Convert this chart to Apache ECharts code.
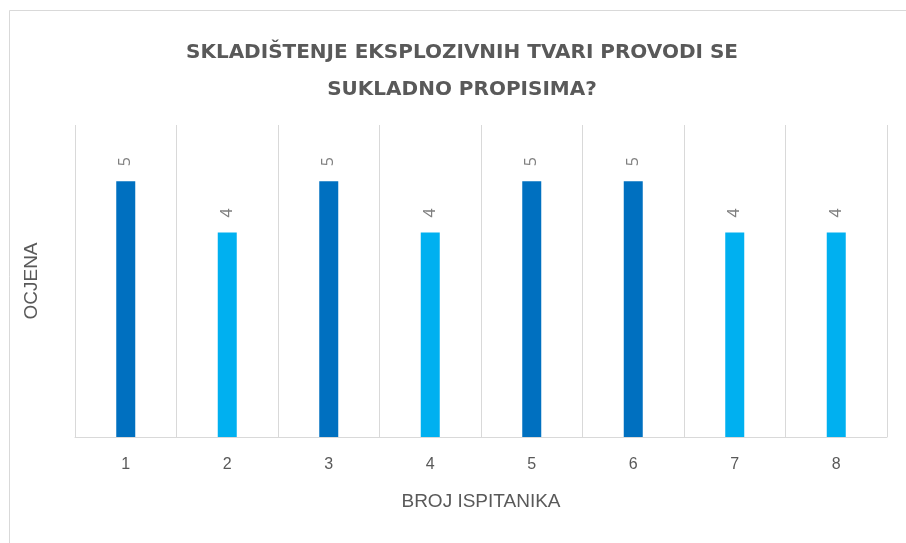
<!DOCTYPE html>
<html>
<head>
<meta charset="utf-8">
<script src="https://cdn.jsdelivr.net/npm/echarts@6/dist/echarts.min.js"></script>
<style>
  html, body { margin: 0; padding: 0; background: #fff; }
  #chart { width: 906px; height: 543px; }
</style>
</head>
<body>
<div id="chart"></div>
<script>
// podaci
const ispitanici = ['1', '2', '3', '4', '5', '6', '7', '8'];
const ocjene = [5, 4, 5, 4, 5, 5, 4, 4];

const naslov = 'SKLADIŠTENJE EKSPLOZIVNIH TVARI PROVODI SE\nSUKLADNO PROPISIMA?';
const tamnoPlava = '#0070C0';
const svijetloPlava = '#00B0F0';

let myChart = echarts.init(document.getElementById('chart'));
let option = {
  backgroundColor: '#fff',
  animation: false,
  title: {
    text: naslov,
    left: 457,
    top: 29,
    textAlign: 'center',
    textStyle: {
      fontFamily: 'DejaVu Sans',
      fontWeight: 'bold',
      fontSize: 20,
      lineHeight: 37,
      color: '#595959'
    }
  },
  graphic: [{
    type: 'polyline',
    silent: true,
    shape: { points: [[9.5, 543], [9.5, 10.5], [906, 10.5]] },
    style: { stroke: '#d9d9d9', lineWidth: 1, fill: null }
  }],
  grid: { left: 75, right: 19, top: 125, bottom: 106 },
  xAxis: {
    type: 'category',
    data: ispitanici,
    name: 'BROJ ISPITANIKA',
    nameLocation: 'middle',
    nameGap: 55,
    nameTextStyle: { fontFamily: 'Liberation Sans', fontSize: 19, color: '#595959' },
    axisLine: { lineStyle: { color: '#d9d9d9', width: 1 } },
    axisTick: { show: false },
    axisLabel: { margin: 20, fontFamily: 'Liberation Sans', fontSize: 16, color: '#595959' },
    splitLine: { show: true, lineStyle: { color: '#d9d9d9', width: 1 } }
  },
  yAxis: {
    type: 'value',
    min: 0,
    max: 6.1,
    name: 'OCJENA',
    nameLocation: 'middle',
    nameRotate: 90,
    nameGap: 34,
    nameTextStyle: { fontFamily: 'Liberation Sans', fontSize: 19, color: '#595959' },
    axisLine: { show: false },
    axisTick: { show: false },
    axisLabel: { show: false },
    splitLine: { show: false }
  },
  series: [{
    type: 'bar',
    data: ocjene,
    barWidth: 19,
    itemStyle: {
      color: function (p) { return p.value >= 5 ? tamnoPlava : svijetloPlava; }
    },
    label: {
      show: true,
      position: 'top',
      rotate: 90,
      align: 'left',
      verticalAlign: 'middle',
      distance: 15,
      fontFamily: 'Open Sans',
      fontSize: 16,
      color: '#7f7f7f'
    }
  }]
};
myChart.setOption(option);
</script>
</body>
</html>
